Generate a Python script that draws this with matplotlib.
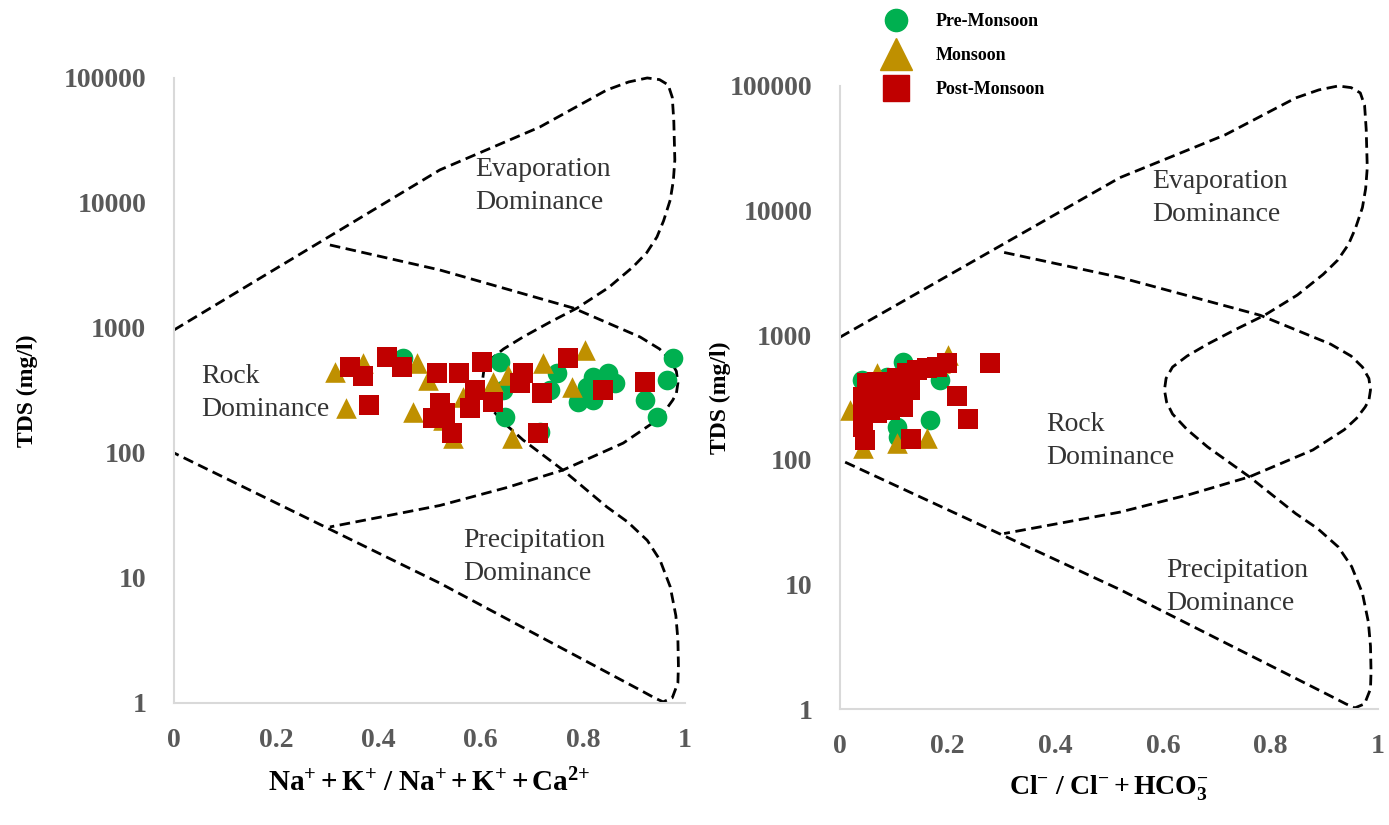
import matplotlib
matplotlib.use("Agg")
import matplotlib.pyplot as plt
from matplotlib.lines import Line2D
from matplotlib.ticker import FixedLocator, NullLocator

plt.rcParams["font.family"] = ["Liberation Serif", "DejaVu Serif"]
plt.rcParams["mathtext.fontset"] = "custom"
plt.rcParams["mathtext.rm"] = "Liberation Serif"
plt.rcParams["mathtext.bf"] = "Liberation Serif:bold"
plt.rcParams["mathtext.it"] = "Liberation Serif:italic"

# Gibbs boundaries (same for both panels), x ratio vs TDS (mg/l)
outer_x = [0.0, 0.52, 0.716, 0.847, 0.89, 0.926, 0.95, 0.967, 0.975, 0.978, 0.98,
           0.977, 0.971, 0.958, 0.945, 0.925, 0.898, 0.85, 0.789, 0.735, 0.683,
           0.645, 0.618, 0.606, 0.603, 0.607, 0.618, 0.645, 0.683, 0.761, 0.847,
           0.888, 0.926, 0.951, 0.971, 0.982, 0.986, 0.987, 0.986, 0.975, 0.957,
           0.94, 0.912, 0.52, 0.0]
outer_tds = [964, 18365, 40550, 80170, 93000, 100000, 97000, 88000, 70000, 45000, 22080,
             15000, 10570, 7200, 5346, 4000, 3076, 2100, 1445, 1110, 847,
             680, 555, 450, 363, 290, 233, 175, 127, 73, 37,
             28, 20, 13.9, 8.5, 5.0, 3.2, 2.0, 1.45, 1.1, 1.02,
             1.1, 1.27, 9.1, 100]
inner_x = [0.305, 0.52, 0.781, 0.912, 0.95, 0.971, 0.983, 0.986, 0.983, 0.976,
           0.96, 0.937, 0.879, 0.761, 0.652, 0.52, 0.305]
inner_tds = [4613, 2911, 1445, 847, 680, 555, 450, 363, 300, 265,
             215, 174, 120, 73, 53, 38, 25.6]

# Left panel: Na+K / (Na+K+Ca)
cat_pre_x = [0.448, 0.638, 0.644, 0.648, 0.750, 0.716, 0.791, 0.820, 0.849, 0.863,
             0.820, 0.977, 0.965, 0.922, 0.945, 0.736, 0.808]
cat_pre_tds = [575, 535, 319, 194, 437, 147, 256, 406, 437, 363,
               265, 575, 384, 265, 194, 319, 337]
cat_mon_x = [0.315, 0.370, 0.337, 0.476, 0.468, 0.497, 0.546, 0.566, 0.624, 0.654,
             0.661, 0.722, 0.779, 0.804, 0.526]
cat_mon_tds = [445, 525, 229, 525, 213, 384, 132, 281, 370, 421,
               132, 525, 337, 667, 184]
cat_post_x = [0.344, 0.370, 0.417, 0.446, 0.515, 0.558, 0.603, 0.382, 0.521, 0.507,
              0.544, 0.579, 0.589, 0.624, 0.683, 0.677, 0.720, 0.771, 0.840, 0.922,
              0.712, 0.530]
cat_post_tds = [488, 413, 586, 488, 437, 437, 535, 242, 251, 191,
                145, 229, 319, 256, 437, 363, 302, 575, 319, 370,
                145, 210]

# Right panel: Cl / (Cl+HCO3)
an_pre_x = [0.117, 0.167, 0.106, 0.041, 0.186, 0.080, 0.108, 0.087]
an_pre_tds = [610, 208, 183, 437, 437, 319, 152, 462]
an_mon_x = [0.201, 0.162, 0.106, 0.019, 0.043, 0.069, 0.186]
an_mon_tds = [690, 150, 136, 251, 124, 498, 598]
an_post_x = [0.279, 0.217, 0.238, 0.132, 0.046, 0.199, 0.180, 0.162, 0.143, 0.125,
             0.106, 0.069, 0.050, 0.043, 0.074, 0.106, 0.130, 0.043, 0.069, 0.093,
             0.117, 0.043]
an_post_tds = [598, 325, 212, 147, 144, 598, 556, 546, 526, 498,
               454, 421, 413, 319, 319, 344, 363, 238, 238, 251,
               265, 183]

x_ticks = [0, 0.2, 0.4, 0.6, 0.8, 1]
x_tick_labels = ["0", "0.2", "0.4", "0.6", "0.8", "1"]
y_ticks = [1, 10, 100, 1000, 10000, 100000]
y_tick_labels = ["1", "10", "100", "1000", "10000", "100000"]

c_pre, c_mon, c_post = "#00B050", "#BF9000", "#C00000"
txt_color = "#333333"

fig = plt.figure(figsize=(13.89, 8.25), dpi=100)
ax1 = fig.add_axes([0.1253, 0.1479, 0.3679, 0.7576])
ax2 = fig.add_axes([0.6048, 0.1406, 0.3873, 0.7552])


def draw_panel(ax, pre, mon, post, xlabel, xlab_size, labels, xlab_y):
    ax.plot(outer_x, outer_tds, color="black", lw=2.0, ls=(0, (3.8, 2.0)), clip_on=False)
    ax.plot(inner_x, inner_tds, color="black", lw=2.0, ls=(0, (3.8, 2.0)), clip_on=False)
    ax.scatter(pre[0], pre[1], marker="o", s=200, color=c_pre, lw=0, zorder=3)
    ax.scatter(mon[0], mon[1], marker="^", s=220, color=c_mon, lw=0, zorder=4)
    ax.scatter(post[0], post[1], marker="s", s=200, color=c_post, lw=0, zorder=5)

    ax.set_yscale("log")
    ax.set_xlim(0, 1)
    ax.set_ylim(1, 100000)
    ax.xaxis.set_major_locator(FixedLocator(x_ticks))
    ax.set_xticklabels(x_tick_labels)
    ax.yaxis.set_major_locator(FixedLocator(y_ticks))
    ax.yaxis.set_minor_locator(NullLocator())
    ax.set_yticklabels(y_tick_labels)
    ax.tick_params(length=0, labelsize=20, labelcolor="#595959")
    ax.tick_params(axis="x", pad=18)
    ax.tick_params(axis="y", pad=20)
    for t in ax.get_xticklabels() + ax.get_yticklabels():
        t.set_fontweight("bold")

    for side in ["top", "right"]:
        ax.spines[side].set_visible(False)
    for side in ["left", "bottom"]:
        ax.spines[side].set_color("#d9d9d9")
        ax.spines[side].set_linewidth(1.5)

    ax.set_ylabel("TDS (mg/l)", fontsize=17, fontweight="bold")
    ax.set_xlabel(xlabel, fontsize=xlab_size)
    ax.xaxis.set_label_coords(0.5, xlab_y)

    for (tx, ty, s) in labels:
        ax.text(tx, ty, s, fontsize=20, color=txt_color, ha="left", va="center",
                linespacing=1.4)


draw_panel(ax1, (cat_pre_x, cat_pre_tds), (cat_mon_x, cat_mon_tds),
           (cat_post_x, cat_post_tds),
           r"$\mathbf{Na^{+} + K^{+}\ /\ Na^{+} + K^{+} + Ca^{2{+}}}$", 21,
           [(0.589, 13700, "Evaporation\nDominance"),
            (0.053, 302, "Rock\nDominance"),
            (0.566, 14.7, "Precipitation\nDominance")], -0.106)
ax1.yaxis.set_label_coords(-0.267, 0.5)

draw_panel(ax2, (an_pre_x, an_pre_tds), (an_mon_x, an_mon_tds),
           (an_post_x, an_post_tds),
           r"$\mathbf{Cl^{-}\ /\ Cl^{-} + HCO_{3}^{-}}$", 20,
           [(0.58, 12600, "Evaporation\nDominance"),
            (0.383, 141, "Rock\nDominance"),
            (0.606, 9.5, "Precipitation\nDominance")], -0.103)
ax2.yaxis.set_label_coords(-0.203, 0.5)

handles = [
    Line2D([], [], ls="none", marker="o", markersize=16, color=c_pre),
    Line2D([], [], ls="none", marker="^", markersize=23, color=c_mon),
    Line2D([], [], ls="none", marker="s", markersize=19, color=c_post),
]
fig.legend(handles, ["Pre-Monsoon", "Monsoon", "Post-Monsoon"],
           loc="upper left", bbox_to_anchor=(0.6206, 1.004), frameon=False,
           prop={"family": "Liberation Serif", "weight": "bold", "size": 13},
           labelspacing=0.95, handlelength=2.0, handletextpad=1.2)

fig.savefig("out.png", dpi=100)
